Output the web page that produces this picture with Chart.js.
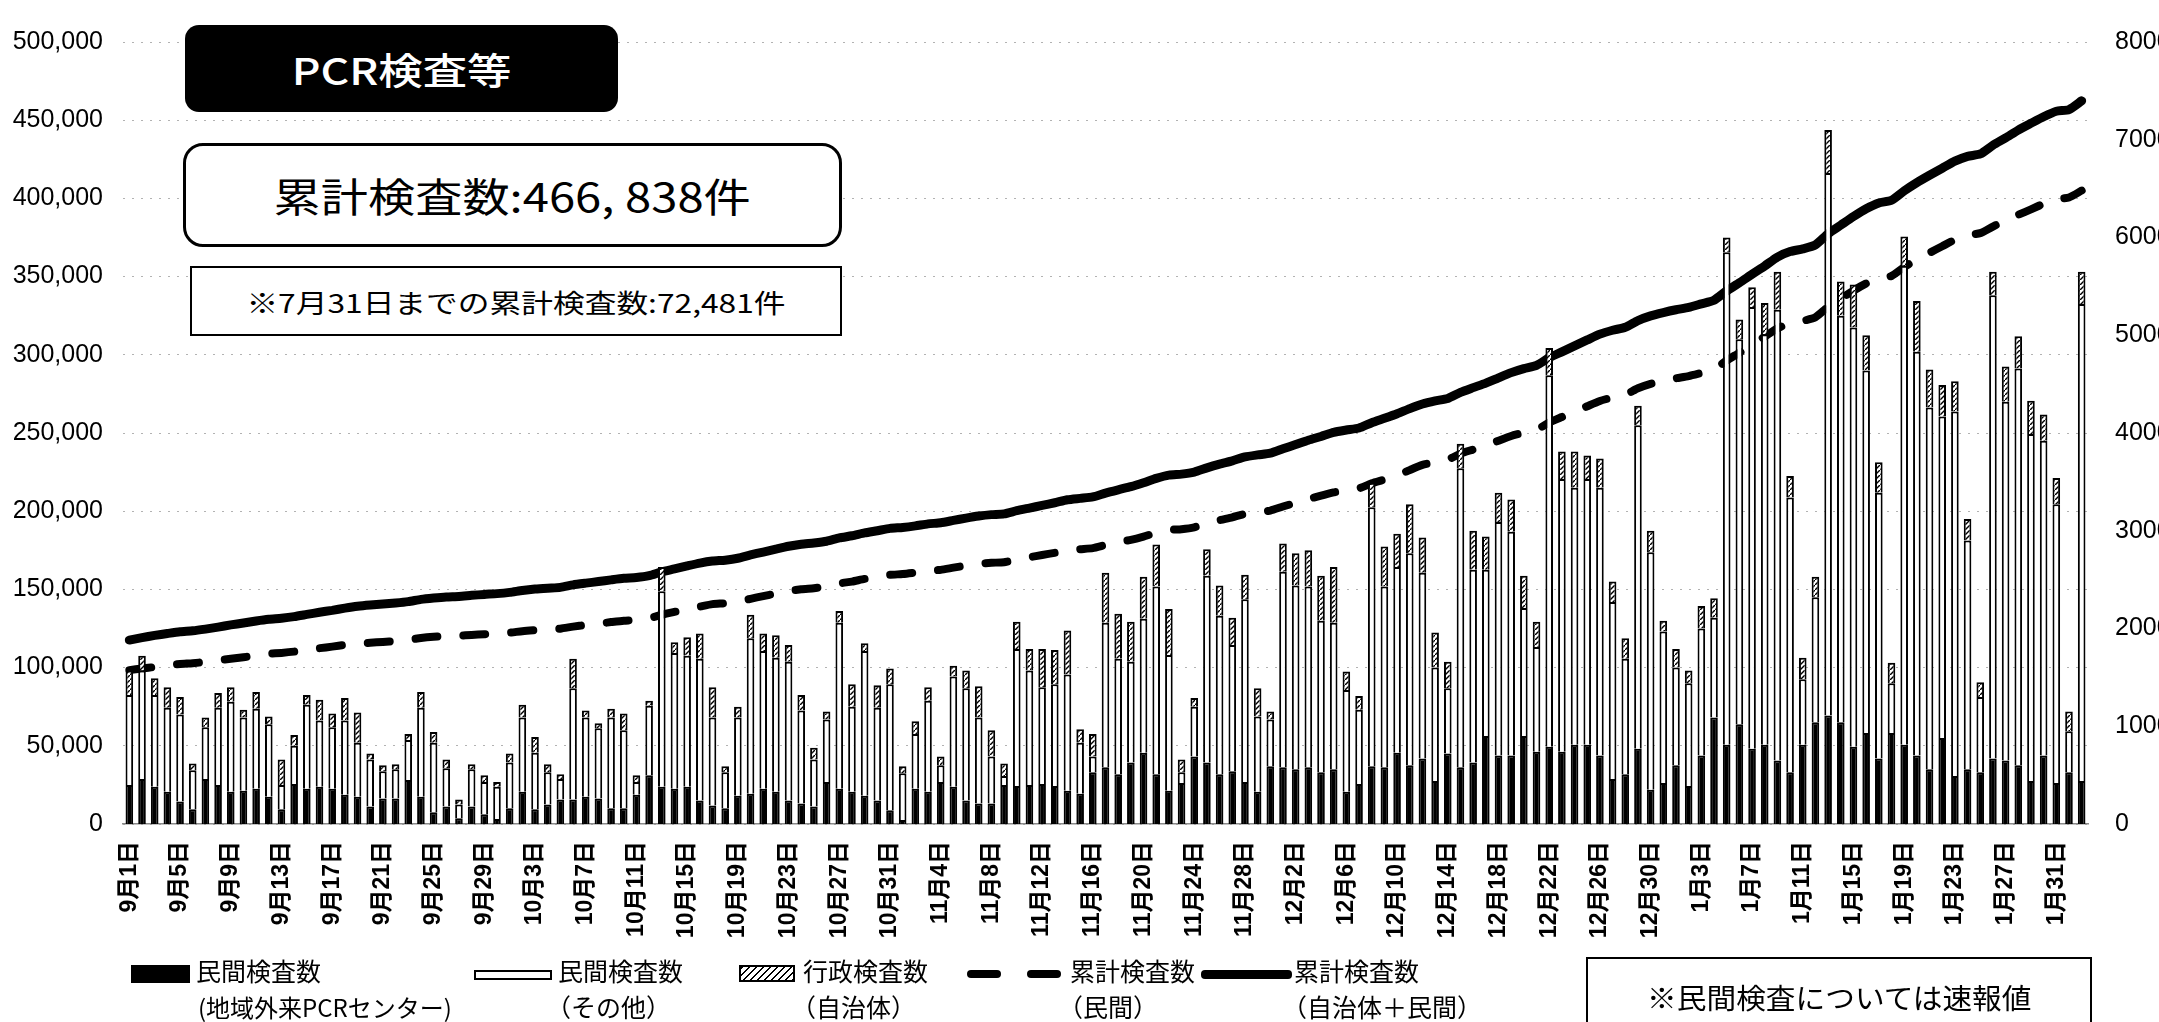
<!DOCTYPE html>
<html>
<head>
<meta charset="utf-8">
<script src="https://cdn.jsdelivr.net/npm/chart.js@4.4.0/dist/chart.umd.min.js"></script>
<style>
html, body { margin: 0; padding: 0; background: #fff; overflow: hidden; }
#wrap { position: relative; width: 2159px; height: 1022px; overflow: hidden; }
#c { position: absolute; left: 0; top: 0; }
.box { position: absolute; box-sizing: border-box; display: flex; align-items: center; justify-content: center;
       font-family: "Noto Sans CJK JP", sans-serif; color: #000; white-space: nowrap; }
.box span { display: inline-block; }
.sw { position: absolute; box-sizing: border-box; }
.lg { position: absolute; font-family: "Noto Sans CJK JP", sans-serif; font-size: 25px; line-height: 25px; color: #000; white-space: nowrap; }
</style>
</head>
<body>
<div id="wrap">
  <canvas id="c" width="2185" height="1022"></canvas>

  <div class="box" style="left:185px;top:25px;width:433px;height:87px;background:#000;color:#fff;border-radius:14px;font-size:37px;font-weight:500;">
    <span style="transform:scaleX(1.2)">PCR検査等</span></div>
  <div class="box" style="left:183px;top:143px;width:659px;height:104px;border:3px solid #000;border-radius:20px;background:#fff;font-size:40px;">
    <span style="transform:scaleX(1.18)">累計検査数:466, 838件</span></div>
  <div class="box" style="left:190px;top:266px;width:652px;height:70px;border:2px solid #000;background:#fff;font-size:26px;">
    <span style="transform:scaleX(1.22)">※7月31日までの累計検査数:72,481件</span></div>

  <div class="sw" style="left:131px;top:965px;width:59px;height:18px;background:#000;"></div>
  <div class="lg" style="left:196px;top:958px;">民間検査数</div>
  <div class="lg" style="left:198px;top:994px;font-size:24px;">(地域外来PCRセンター)</div>

  <div class="sw" style="left:474px;top:970px;width:78px;height:10px;border:2px solid #000;background:#fff;"></div>
  <div class="lg" style="left:558px;top:958px;">民間検査数</div>
  <div class="lg" style="left:546px;top:994px;">（その他）</div>

  <div class="sw" style="left:739px;top:965px;width:56px;height:17px;border:2px solid #000;background:repeating-linear-gradient(135deg,#000 0 1.5px,#fff 1.5px 5px);"></div>
  <div class="lg" style="left:803px;top:958px;">行政検査数</div>
  <div class="lg" style="left:791px;top:994px;">（自治体）</div>

  <div class="sw" style="left:967px;top:970px;width:34px;height:8px;background:#000;border-radius:4px;"></div>
  <div class="sw" style="left:1027px;top:970px;width:34px;height:8px;background:#000;border-radius:4px;"></div>
  <div class="lg" style="left:1070px;top:958px;">累計検査数</div>
  <div class="lg" style="left:1058px;top:994px;">（民間）</div>

  <div class="sw" style="left:1201px;top:970px;width:91px;height:9px;background:#000;border-radius:4px;"></div>
  <div class="lg" style="left:1294px;top:958px;">累計検査数</div>
  <div class="lg" style="left:1282px;top:994px;">（自治体＋民間）</div>

  <div class="box" style="left:1586px;top:957px;width:506px;height:100px;border:2px solid #000;background:#fff;font-size:28px;align-items:flex-start;padding-top:24px;">
    <span style="transform:scaleX(1.06);line-height:28px;">※民間検査については速報値</span></div>
</div>

<script>
let labels = [
    "9月1日","9月2日","9月3日","9月4日","9月5日","9月6日","9月7日","9月8日","9月9日","9月10日",
    "9月11日","9月12日","9月13日","9月14日","9月15日","9月16日","9月17日","9月18日","9月19日","9月20日",
    "9月21日","9月22日","9月23日","9月24日","9月25日","9月26日","9月27日","9月28日","9月29日","9月30日",
    "10月1日","10月2日","10月3日","10月4日","10月5日","10月6日","10月7日","10月8日","10月9日","10月10日",
    "10月11日","10月12日","10月13日","10月14日","10月15日","10月16日","10月17日","10月18日","10月19日","10月20日",
    "10月21日","10月22日","10月23日","10月24日","10月25日","10月26日","10月27日","10月28日","10月29日","10月30日","10月31日",
    "11月1日","11月2日","11月3日","11月4日","11月5日","11月6日","11月7日","11月8日","11月9日","11月10日",
    "11月11日","11月12日","11月13日","11月14日","11月15日","11月16日","11月17日","11月18日","11月19日","11月20日",
    "11月21日","11月22日","11月23日","11月24日","11月25日","11月26日","11月27日","11月28日","11月29日","11月30日",
    "12月1日","12月2日","12月3日","12月4日","12月5日","12月6日","12月7日","12月8日","12月9日","12月10日",
    "12月11日","12月12日","12月13日","12月14日","12月15日","12月16日","12月17日","12月18日","12月19日","12月20日",
    "12月21日","12月22日","12月23日","12月24日","12月25日","12月26日","12月27日","12月28日","12月29日","12月30日","12月31日",
    "1月1日","1月2日","1月3日","1月4日","1月5日","1月6日","1月7日","1月8日","1月9日","1月10日",
    "1月11日","1月12日","1月13日","1月14日","1月15日","1月16日","1月17日","1月18日","1月19日","1月20日",
    "1月21日","1月22日","1月23日","1月24日","1月25日","1月26日","1月27日","1月28日","1月29日","1月30日","1月31日",
    "2月1日","2月2日"
];

// 民間検査数（地域外来PCRセンター）
let centerTests = [
    400,460,380,330,230,150,460,400,330,340, 360,280,150,410,360,380,360,300,280,180,
    260,260,450,280,120,180,60,180,100,50, 160,330,150,200,250,250,280,260,160,160,
    300,500,380,360,380,240,190,160,290,310, 360,330,240,210,180,430,360,330,290,240,
    140,40,360,330,430,380,240,210,210,400, 390,400,410,390,340,310,530,580,510,630,
    730,510,340,420,690,630,510,540,430,330, 590,580,560,580,530,560,330,410,590,580,
    730,600,670,440,720,580,630,900,700,700, 900,740,790,740,810,810,700,460,510,770,
    350,420,600,390,700,1090,810,1020,770,810, 650,530,810,1040,1110,1040,790,930,670,930,
    810,700,560,880,490,560,530,670,650,600, 440,700,420,530,440
];

// 民間検査数（その他）
let otherTests = [
    920,1110,940,860,890,400,530,790,920,750, 820,740,250,390,860,680,630,760,550,480,
    280,300,410,910,710,390,140,380,330,330, 470,760,580,330,210,1140,810,720,930,800,
    130,710,2000,1390,1340,1450,900,370,800,1590, 1410,1370,1420,950,480,640,1700,870,1480,950,
    1290,480,560,930,170,1130,1150,880,480,90, 1400,1170,990,1040,1190,520,160,1480,1180,1030,
    1370,1920,1390,110,510,1910,1620,1290,1870,770, 480,2000,1880,1850,1550,1500,1040,760,2650,1850,
    1900,2170,1900,1160,670,3060,1970,1700,2390,2290, 1310,1070,3800,2790,2630,2720,2740,1810,1180,3310,
    2430,1550,1000,1050,1300,1020,5040,3940,4520,4200, 4610,2810,670,1280,5550,4160,4290,3710,2720,510,
    4900,4130,3700,3290,3730,2340,770,4740,3670,4060, 3550,3220,2850,420,4880
];

// 行政検査数（自治体）
let localGovTests = [
    250,150,170,210,180,70,100,150,150,80, 170,80,260,110,100,210,140,230,310,60,
    60,50,60,160,110,90,50,50,70,50, 90,130,160,80,50,300,70,50,90,170,
    70,50,250,110,190,260,310,60,110,240, 180,230,170,160,120,80,120,230,80,230,
    160,70,130,140,90,110,180,320,270,130, 280,220,390,350,450,140,230,510,460,410,
    430,430,470,130,90,270,310,280,250,290, 80,290,330,370,460,570,190,140,250,410,
    340,500,360,360,270,250,400,340,300,330, 330,260,280,280,370,240,300,210,210,200,
    220,110,190,130,230,200,150,200,200,320, 390,220,220,210,440,350,440,360,310,210,
    300,520,390,320,310,220,150,240,360,330, 340,270,270,200,330
];

// 累計検査数（民間）
let cumPrivate = [
    98400,99400,100400,101400,102300,102800,103600,104600,105600,106600,
    107700,108800,109400,110200,111300,112400,113400,114500,115300,115900,
    116400,116900,117700,118900,119700,120200,120400,120900,121300,121700,
    122300,123300,124000,124500,124900,126200,127200,128100,129100,130000,
    130400,131600,133800,135600,137300,139000,140600,141100,142100,144000,
    145700,147400,149000,150100,150800,151800,153800,155000,156700,157900,
    159300,159800,160700,161900,162500,163900,165200,166300,167000,167400,
    169100,170600,172000,173400,174900,175700,176400,178400,180100,181700,
    183800,186200,188000,188500,189700,192200,194300,196100,198300,199400,
    200400,203000,205400,207800,209900,212000,213400,214600,217800,220200,
    222800,226300,229600,231400,233000,236800,239400,242000,245100,248100,
    250300,252100,256700,260200,263600,267100,270500,272800,274500,278600,
    281400,283400,285000,286400,288400,290500,296400,301300,306600,311600,
    316900,320200,321700,324000,330700,335900,341000,345600,349000,350400,
    356100,360900,365200,369400,373600,376500,377800,382000,385800,389500,
    393000,396600,399600,400600,405000
];

// 累計検査数（自治体＋民間）
let cumTotal = [
    117600,119200,120600,121800,122900,123500,124600,125900,127300,128500,
    129800,130900,131600,132600,134000,135400,136600,138000,139200,140000,
    140600,141300,142200,143600,144500,145200,145500,146200,146800,147300,
    148100,149300,150200,150800,151300,152900,154000,155000,156100,157100,
    157600,158800,161300,163100,165000,166800,168100,168700,169900,172000,
    173900,175800,177600,178900,179700,180800,182900,184300,186100,187500,
    189000,189600,190600,191900,192600,194100,195600,196900,197800,198300,
    200300,202000,203700,205400,207300,208200,209100,211600,213700,215700,
    218200,221000,223100,223700,225000,227700,230100,232200,234700,236000,
    237100,239900,242600,245400,247800,250400,251900,253200,256600,259400,
    262300,265600,268500,270500,272100,276000,279000,281900,285300,288600,
    291200,293300,298100,301900,305700,309500,313200,315700,317600,321900,
    324900,327000,328800,330300,332600,334900,340900,346000,351500,356800,
    362500,366000,367700,370300,377400,382900,388400,393400,397100,398800,
    404800,410100,414800,419300,423800,426900,428400,434000,438700,443700,
    448000,452200,455700,456800,462400
];

function makeHatch() {
    let c = document.createElement("canvas");
    c.width = 5; c.height = 5;
    let g = c.getContext("2d");
    g.fillStyle = "#fff";
    g.fillRect(0, 0, 5, 5);
    g.strokeStyle = "#000";
    g.lineWidth = 1.4;
    g.beginPath();
    g.moveTo(-1, 6); g.lineTo(6, -1);
    g.stroke();
    return g.createPattern(c, "repeat");
}

let barCommon = { type: "bar", yAxisID: "y1", stack: "s", borderColor: "#000", borderWidth: 2,
                  barPercentage: 0.6, categoryPercentage: 1, order: 0 };

new Chart(document.getElementById("c").getContext("2d"), {
    data: {
        labels: labels,
        datasets: [
            Object.assign({ label: "民間検査数（地域外来PCRセンター）", data: centerTests, backgroundColor: "#000" }, barCommon),
            Object.assign({ label: "民間検査数（その他）", data: otherTests, backgroundColor: "#fff" }, barCommon),
            Object.assign({ label: "行政検査数（自治体）", data: localGovTests, backgroundColor: makeHatch() }, barCommon),
            {
                type: "line", label: "累計検査数（民間）", data: cumPrivate, yAxisID: "y", order: 1,
                borderColor: "#000", borderWidth: 8, borderDash: [22, 26], borderCapStyle: "round",
                pointRadius: 0, tension: 0.2, fill: false
            },
            {
                type: "line", label: "累計検査数（自治体＋民間）", data: cumTotal, yAxisID: "y", order: 1,
                borderColor: "#000", borderWidth: 9, borderCapStyle: "round", borderJoinStyle: "round",
                pointRadius: 0, tension: 0.2, fill: false
            }
        ]
    },
    options: {
        responsive: false,
        animation: false,
        devicePixelRatio: 1,
        layout: { padding: { top: 25, left: 0, right: 0, bottom: 0 } },
        plugins: { legend: { display: false }, tooltip: { enabled: false } },
        scales: {
            x: {
                stacked: true,
                grid: { display: false, drawTicks: false },
                border: { display: true, color: "#8a8a8a", width: 1.5, dash: [8, 4] },
                ticks: {
                    autoSkip: false, minRotation: 90, maxRotation: 90, padding: 17, color: "#000",
                    font: { family: "'Liberation Sans', 'Noto Sans CJK JP', sans-serif", size: 23, weight: "bold" },
                    callback: function(value, index) { return index % 4 === 0 ? labels[index] : ""; }
                },
                afterFit: function(scale) { scale.height = 198; }
            },
            y: {
                position: "left", min: 0, max: 500000,
                grid: { color: "rgba(0,0,0,0.3)", lineWidth: 1, drawTicks: false },
                border: { display: false, dash: [2, 7] },
                ticks: {
                    stepSize: 50000, padding: 20, color: "#000",
                    font: { family: "'Liberation Sans', Arial, sans-serif", size: 25 },
                    callback: function(v) { return v.toLocaleString("en-US"); }
                },
                afterFit: function(scale) { scale.width = 123; }
            },
            y1: {
                position: "right", stacked: true, min: 0, max: 8000,
                grid: { display: false, drawTicks: false },
                border: { display: false },
                ticks: {
                    stepSize: 1000, padding: 27, color: "#000",
                    font: { family: "'Liberation Sans', Arial, sans-serif", size: 25 },
                    callback: function(v) { return String(v); }
                },
                afterFit: function(scale) { scale.width = 97; }
            }
        }
    }
});
</script>
</body>
</html>
